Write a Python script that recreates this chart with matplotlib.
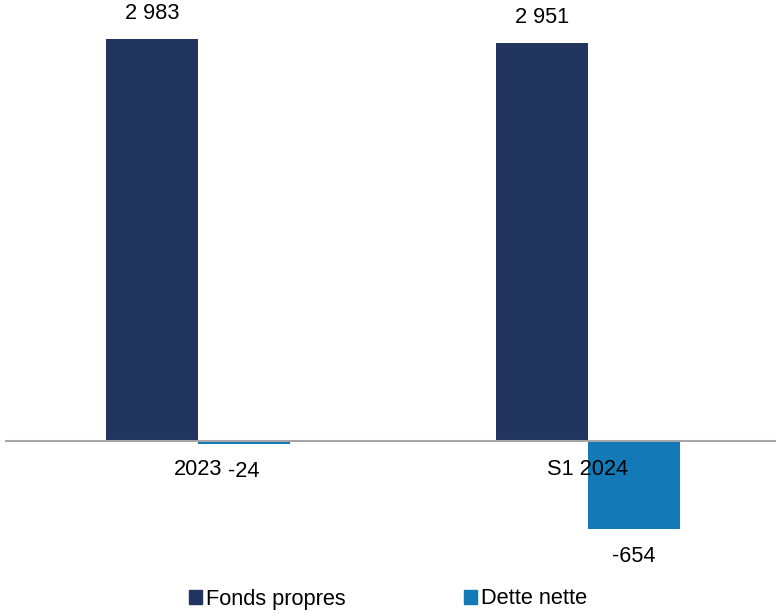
import numpy as np
import matplotlib.pyplot as plt
from matplotlib.patches import Patch

plt.rcParams['font.family'] = ['Liberation Sans', 'DejaVu Sans']

# data
categories = ['2023', 'S1 2024']
fonds_propres = [2983, 2951]
dette_nette = [-24, -654]
series_names = ['Fonds propres', 'Dette nette']

c_dark = '#22355F'
c_blue = '#1479B7'

W, H = 776, 613
fig = plt.figure(figsize=(W / 100, H / 100), dpi=100)
# axes placed in pixel coords
ax = fig.add_axes([5 / W, 1 - 560 / H, 771 / W, 550 / H])

x = np.arange(len(categories))
w = 0.236
ax.bar(x - w / 2, fonds_propres, w, color=c_dark)
ax.bar(x + w / 2, dette_nette, w, color=c_blue)

ax.set_xlim(-0.495, 1.482)
ax.set_ylim(-883, 3197)
ax.axhline(0, color='#A6A6A6', lw=1.5)

for s in ax.spines.values():
    s.set_visible(False)
ax.set_xticks([])
ax.set_yticks([])

def fmt(v):
    return f'{v:,}'.replace(',', ' ')

fs = 15.7
for i in range(len(categories)):
    ax.annotate(fmt(fonds_propres[i]), (x[i] - w / 2, fonds_propres[i]),
                xytext=(0, 11), textcoords='offset points',
                ha='center', va='bottom', fontsize=fs)
    ax.annotate(fmt(dette_nette[i]), (x[i] + w / 2, dette_nette[i]),
                xytext=(0, -12), textcoords='offset points',
                ha='center', va='top', fontsize=fs)
    ax.annotate(categories[i], (x[i], 0), xytext=(0, -13),
                textcoords='offset points', ha='center', va='top', fontsize=fs)

handles = [Patch(color=c_dark), Patch(color=c_blue)]
fig.legend(handles, series_names, loc='center', bbox_to_anchor=(0.5, 1 - 599 / H),
           ncol=2, frameon=False, fontsize=fs, handlelength=0.6, handleheight=0.6,
           handletextpad=0.15, columnspacing=5.45)

fig.savefig('out.png', dpi=100)
